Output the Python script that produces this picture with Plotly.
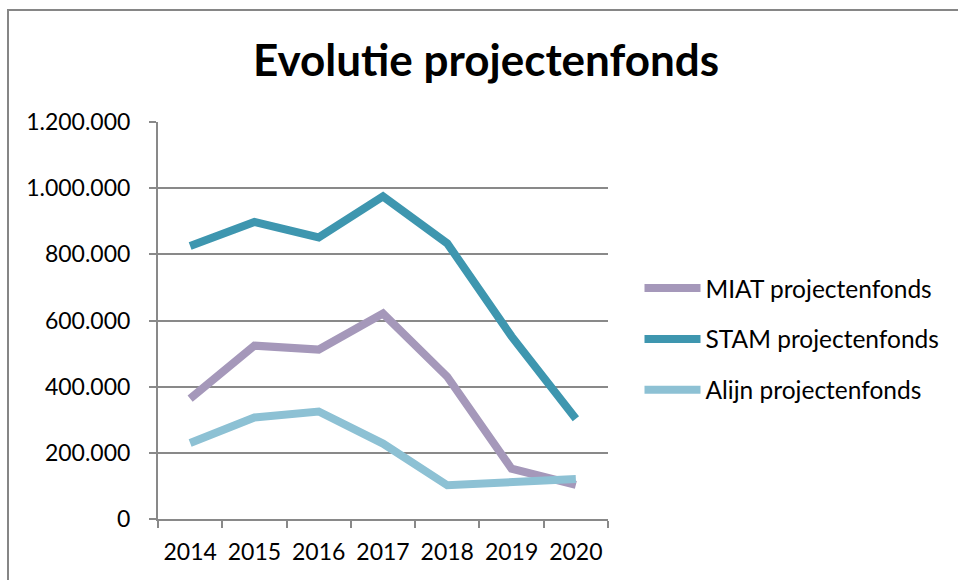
import plotly.graph_objects as go

years = ["2014", "2015", "2016", "2017", "2018", "2019", "2020"]
series_names = ["MIAT projectenfonds", "STAM projectenfonds", "Alijn projectenfonds"]
miat = [364000, 524000, 512000, 621000, 430000, 152000, 103000]
stam = [825000, 898000, 851000, 975000, 833000, 552000, 303000]
alijn = [230000, 307000, 325000, 228000, 102000, 112000, 121000]
y_ticks = [0, 200000, 400000, 600000, 800000, 1000000, 1200000]

colors = ["#A598BA", "#3E96AF", "#8DC1D4"]
values = [miat, stam, alijn]

FONT = "Lato"
fig = go.Figure()
for i, (name, vals) in enumerate(zip(series_names, values)):
    fig.add_trace(go.Scatter(
        x=years, y=vals, name=name, mode="lines",
        line=dict(color=colors[i], width=8),
        legendgroup=f"g{i}",
    ))

grid = "#898989"
fig.update_layout(
    width=958, height=580,
    margin=dict(l=158, r=350, t=122, b=61),
    paper_bgcolor="white", plot_bgcolor="white",
    separators=",.",
    font=dict(family=FONT, size=23, color="black"),
    title=dict(text="<b>Evolutie projectenfonds</b>", font=dict(family=FONT, size=44, color="black"),
               x=486 / 958, xanchor="center", xref="container",
               y=1 - 61 / 580, yanchor="middle", yref="container"),
    showlegend=True,
    legend=dict(x=1.07, xanchor="left", y=0.453, yanchor="middle",
                font=dict(family=FONT, size=24.5, color="black"),
                itemwidth=56, tracegroupgap=16, bgcolor="rgba(0,0,0,0)"),
    xaxis=dict(type="category", showgrid=False, showline=True, linecolor=grid, linewidth=2,
               ticks="outside", tickson="boundaries", ticklen=7, tickcolor=grid, tickwidth=2,
               tickfont=dict(family=FONT, size=23, color="black"), ticklabelstandoff=11,
               range=[-0.5, 6.5], fixedrange=True),
    yaxis=dict(range=[0, 1200000], tickvals=y_ticks, tickformat=",d",
               showgrid=True, gridcolor=grid, gridwidth=2, zeroline=False,
               showline=True, linecolor=grid, linewidth=2,
               ticks="outside", ticklen=7, tickcolor=grid, tickwidth=2,
               tickfont=dict(family=FONT, size=23, color="black"), ticklabelstandoff=14),
    shapes=[dict(type="rect", xref="paper", yref="paper",
                 x0=(8 - 158) / 450, x1=(975 - 158) / 450,
                 y0=(519 - 600) / 397, y1=(519 - 10) / 397,
                 line=dict(color="#868686", width=2), fillcolor="rgba(0,0,0,0)", layer="below")],
)

fig.write_html("out.html", config={"displayModeBar": False},
               post_script="document.body.style.margin='0';")
